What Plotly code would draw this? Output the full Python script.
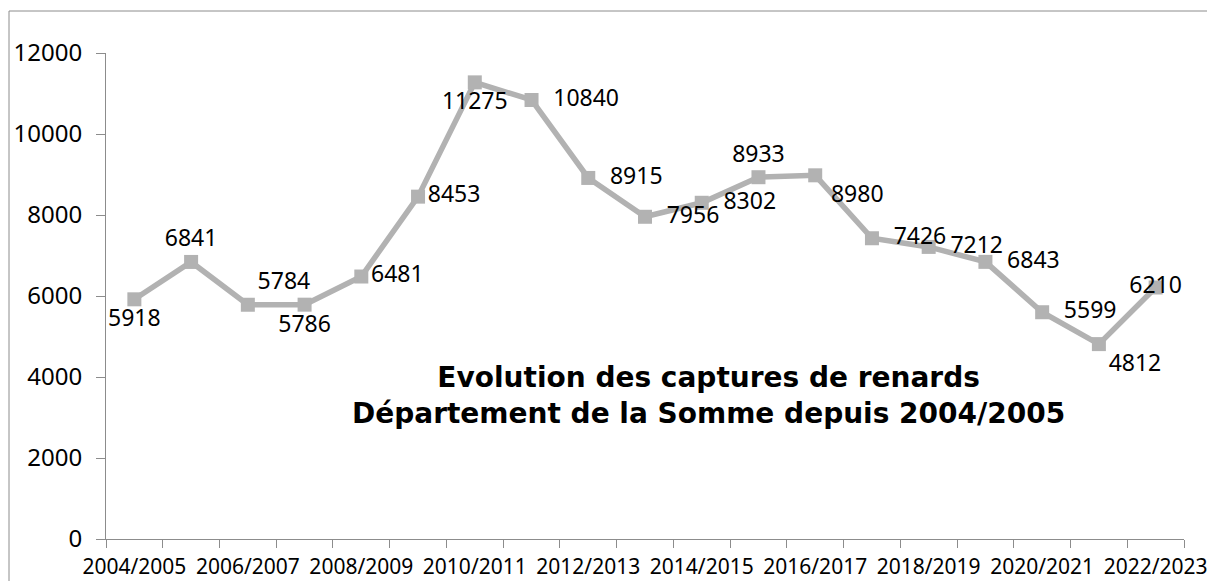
import plotly.graph_objects as go

seasons = ["2004/2005", "2005/2006", "2006/2007", "2007/2008", "2008/2009", "2009/2010",
           "2010/2011", "2011/2012", "2012/2013", "2013/2014", "2014/2015", "2015/2016",
           "2016/2017", "2017/2018", "2018/2019", "2019/2020", "2020/2021", "2021/2022",
           "2022/2023"]
captures = [5918, 6841, 5784, 5786, 6481, 8453, 11275, 10840, 8915, 7956, 8302, 8933,
            8980, 7426, 7212, 6843, 5599, 4812, 6210]
label_pos = ["bottom center", "top center", "top right", "bottom center", "middle right",
             "middle right", "bottom center", "middle right", "middle right", "middle right",
             "middle right", "top center", "bottom right", "middle right", "middle right",
             "middle right", "middle right", "bottom right", "middle center"]
label_pad = [0, 0, 0, 0, 0, 0, 0, 2, 2, 2, 2, 0, 1, 2, 2, 2, 2, 0, 0]
y_ticks = [0, 2000, 4000, 6000, 8000, 10000, 12000]
y_tick_text = ["0", "2000", "4000", "6000", "8000", "10000", "12000"]

idx = list(range(len(seasons)))
NB = "\u00a0"
labels = [NB * p + str(v) for v, p in zip(captures, label_pad)]

fig = go.Figure()
fig.add_trace(go.Scatter(
    x=idx, y=captures,
    mode="lines+markers+text",
    line=dict(color="#b2b2b2", width=5.5),
    marker=dict(symbol="square", size=14, color="#b2b2b2"),
    text=labels,
    textposition=label_pos,
    textfont=dict(family="Noto Sans", size=23, color="#000000"),
    cliponaxis=False,
    hoverinfo="skip",
))

# page body has an 8px margin; figure occupies 1207x573 of the 1215x581 window
OFF = 8
W, H = 1215 - OFF, 581 - OFF
L, R, T, B = 106 - OFF, 31, 53 - OFF, 42
pw, ph = W - L - R, H - T - B

fig.update_layout(
    width=W, height=H,
    margin=dict(l=L, r=R, t=T, b=B, autoexpand=False),
    paper_bgcolor="white", plot_bgcolor="white",
    showlegend=False,
    font=dict(family="Noto Sans", color="#000000"),
    xaxis=dict(
        range=[-0.5, len(seasons) - 0.5],
        tickmode="array",
        tickvals=idx[::2],
        ticktext=seasons[::2],
        ticks="outside", ticklen=9, tickcolor="rgba(0,0,0,0)",
        showgrid=False, zeroline=False, automargin=False,
        showline=True, linecolor="#8c8c8c", linewidth=1,
        tickfont=dict(family="Noto Sans", size=21, color="#000000"),
        minor=dict(tickmode="array", tickvals=[i - 0.5 for i in range(len(seasons) + 1)],
                   ticks="outside", ticklen=8, tickcolor="#8c8c8c", showgrid=False),
        fixedrange=True,
    ),
    yaxis=dict(
        range=[0, 12000],
        tickmode="array", tickvals=y_ticks, ticktext=y_tick_text,
        ticks="outside", ticklen=9, tickcolor="#8c8c8c",
        ticklabelstandoff=9,
        showgrid=False, zeroline=False, automargin=False,
        showline=True, linecolor="#8c8c8c", linewidth=1,
        tickfont=dict(family="Noto Sans", size=24, color="#000000"),
        fixedrange=True,
    ),
    annotations=[dict(
        text="<b>Evolution des captures de renards<br>Département de la Somme depuis 2004/2005</b>",
        xref="paper", yref="paper",
        x=(708 - 106) / pw, y=(539 - 395) / ph,
        xanchor="center", yanchor="middle",
        showarrow=False, align="center",
        font=dict(family="DejaVu Sans", size=28, color="#000000"),
    )],
    shapes=[dict(
        type="rect", xref="paper", yref="paper",
        x0=(9 - 106) / pw, x1=(1213 - 106) / pw,
        y0=(539 - 590) / ph, y1=(539 - 11) / ph,
        line=dict(color="#8c8c8c", width=1), layer="below",
    )],
)

fig.write_html("out.html")
